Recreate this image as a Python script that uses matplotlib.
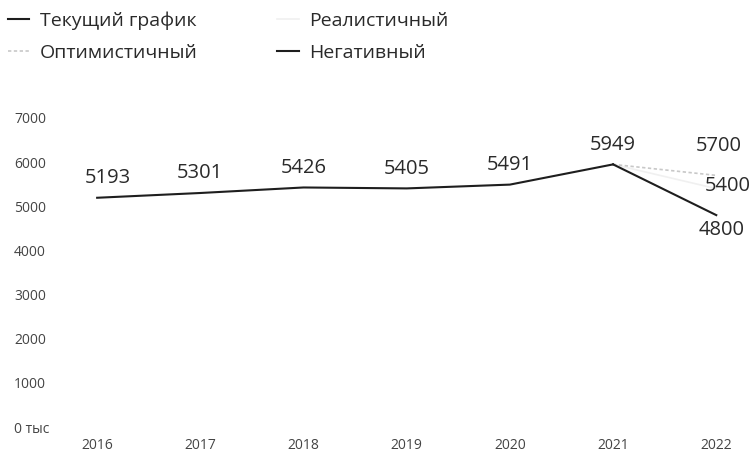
import matplotlib.pyplot as plt

plt.rcParams['font.family'] = ['Open Sans', 'DejaVu Sans']

# Data
years = ['2016', '2017', '2018', '2019', '2020', '2021', '2022']
current = [5193, 5301, 5426, 5405, 5491, 5949]
optimistic = [5949, 5700]
realistic = [5949, 5400]
negative = [5949, 4800]
y_ticks = [0, 1000, 2000, 3000, 4000, 5000, 6000, 7000]
y_tick_labels = ['0 тыс', '1000', '2000', '3000', '4000', '5000', '6000', '7000']

fig = plt.figure(figsize=(7.54, 4.59), dpi=100)
W, H = 754, 459
# axes placed in pixel terms (left, bottom, width, height)
ax = fig.add_axes([60 / W, (H - 435) / H, 680 / W, 325 / H])

x_cur = list(range(len(current)))
x_fc = [5, 6]

ax.plot(x_cur, current, color='#1e1e1e', lw=1.5, label='Текущий график', zorder=3)
ax.plot(x_fc, optimistic, color='#c8c8c8', lw=1.2, ls=(0, (2, 1.5)), label='Оптимистичный', zorder=2)
ax.plot(x_fc, realistic, color='#f0f0f0', lw=1.2, label='Реалистичный', zorder=1)
ax.plot(x_fc, negative, color='#1e1e1e', lw=1.5, label='Негативный', zorder=3)

# value labels
txt = dict(fontsize=14.5, color='#2a2a2a', ha='center', va='bottom')
for i, v in enumerate(current):
    ax.annotate(str(v), (i, v), xytext=(8 if i == 0 else 0, 7), textcoords='offset points', **txt)
ax.annotate(str(optimistic[1]), (6, optimistic[1]), xytext=(2, 14), textcoords='offset points', **txt)
ax.annotate(str(realistic[1]), (6, realistic[1]), xytext=(8, -5), textcoords='offset points', **txt)
ax.annotate(str(negative[1]), (6, negative[1]), xytext=(4, -18), textcoords='offset points', **txt)

ax.set_xlim(-0.36, 6.23)
ax.set_ylim(-181, 7181)
ax.set_xticks(range(len(years)))
ax.set_xticklabels(years)
ax.set_yticks(y_ticks)
ax.set_yticklabels(y_tick_labels)
ax.tick_params(axis='both', length=0, labelsize=10, colors='#444444')
ax.tick_params(axis='x', pad=2)
ax.tick_params(axis='y', pad=33)
for lab in ax.get_yticklabels():
    lab.set_horizontalalignment('left')
for s in ax.spines.values():
    s.set_visible(False)

fig.legend(loc='upper left', bbox_to_anchor=(-0.013, 1.014), ncol=2, frameon=False,
           fontsize=14, handlelength=1.1, handletextpad=0.55, columnspacing=4.1,
           labelspacing=0.75, labelcolor='#2a2a2a')

fig.savefig('out.png', dpi=100, facecolor='white')
